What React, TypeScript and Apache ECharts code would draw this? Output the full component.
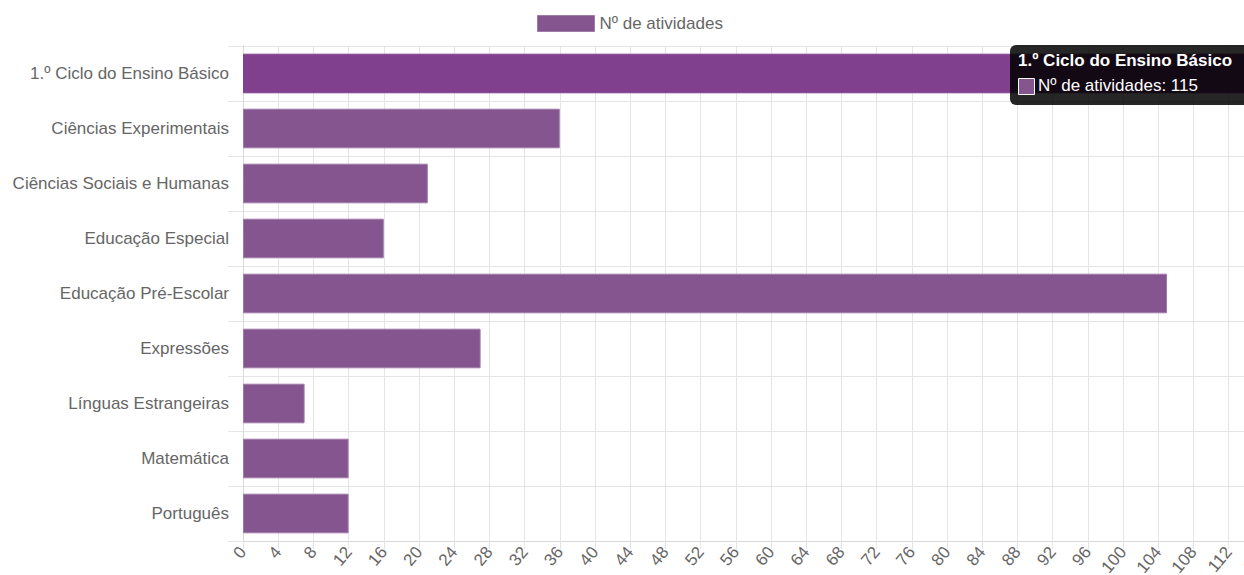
import React, { useEffect, useRef } from "react";
import * as echarts from "echarts";

const categories = [
  "1.º Ciclo do Ensino Básico",
  "Ciências Experimentais",
  "Ciências Sociais e Humanas",
  "Educação Especial",
  "Educação Pré-Escolar",
  "Expressões",
  "Línguas Estrangeiras",
  "Matemática",
  "Português",
];
const values = [115, 36, 21, 16, 105, 27, 7, 12, 12];
const seriesName = "Nº de atividades";
const hoveredIndex = 0;
const axisMax = 116;
const axisStep = 4;

const FONT = "'Liberation Sans', Arial, Helvetica, sans-serif";
const BAR = "#855590";
const BAR_HOVER = "#80408d";
const BAR_BORDER = "#a07aa8";

export default function App() {
  const ref = useRef<HTMLDivElement>(null);
  useEffect(() => {
    if (!ref.current) return;
    const chart = echarts.init(ref.current, null, { renderer: "svg" });
    const tipTitle = categories[hoveredIndex];
    const tipBody = `${seriesName}: ${values[hoveredIndex]}`;
    chart.setOption({
      animation: false,
      textStyle: { fontFamily: FONT },
      legend: {
        top: 10,
        left: 532,
        icon: "rect",
        itemWidth: 57,
        itemHeight: 16,
        itemGap: 10,
        textStyle: { color: "#666", fontSize: 17, fontFamily: FONT },
        data: [{ name: seriesName, itemStyle: { color: BAR, borderColor: BAR_BORDER, borderWidth: 1 } }],
      },
      grid: {
        left: 243,
        width: axisMax * 8.8,
        top: 46,
        height: 495,
        containLabel: false,
        outerBoundsMode: "none",
      },
      xAxis: {
        type: "value",
        min: 0,
        max: axisMax,
        interval: axisStep,
        axisLine: { show: true, lineStyle: { color: "#d9d9d9" } },
        axisTick: { show: true, length: 8, lineStyle: { color: "#e5e5e5" } },
        splitLine: { show: true, lineStyle: { color: "#e5e5e5" } },
        axisLabel: {
          rotate: 50,
          color: "#666",
          fontSize: 17,
          fontFamily: FONT,
          margin: 8,
        },
      },
      yAxis: {
        type: "category",
        inverse: true,
        data: categories,
        boundaryGap: true,
        axisLine: { show: true, lineStyle: { color: "#d9d9d9" } },
        axisTick: { show: true, length: 15, lineStyle: { color: "#e5e5e5" } },
        splitLine: { show: true, lineStyle: { color: "#e5e5e5" } },
        axisLabel: { color: "#666", fontSize: 17, fontFamily: FONT, margin: 14 },
      },
      series: [
        {
          name: seriesName,
          type: "bar",
          barCategoryGap: "28%",
          z: 2,
          data: values.map((v, i) => ({
            value: v,
            itemStyle: {
              color: i === hoveredIndex ? BAR_HOVER : BAR,
              borderColor: i === hoveredIndex ? BAR_HOVER : BAR_BORDER,
              borderWidth: 1,
            },
          })),
        },
      ],
      graphic: [
        {
          type: "rect",
          left: 1010,
          top: 45,
          z: 100,
          zlevel: 1,
          shape: { width: 250, height: 60, r: 6 },
          style: { fill: "rgba(0,0,0,0.85)" },
        },
        {
          type: "text",
          left: 1018,
          top: 52,
          z: 101,
          zlevel: 1,
          style: {
            text: tipTitle,
            fill: "#fff",
            font: `bold 17px ${FONT}`,
          },
        },
        {
          type: "rect",
          left: 1018,
          top: 78,
          z: 101,
          zlevel: 1,
          shape: { width: 16, height: 16 },
          style: { fill: BAR, stroke: "#fff", lineWidth: 1 },
        },
        {
          type: "text",
          left: 1038,
          top: 77,
          z: 101,
          zlevel: 1,
          style: {
            text: tipBody,
            fill: "#fff",
            font: `17px ${FONT}`,
          },
        },
      ],
    });
    return () => chart.dispose();
  }, []);
  return (
    <div
      ref={ref}
      style={{ position: "fixed", left: 0, top: 0, width: 1244, height: 575, background: "#fff" }}
    />
  );
}
